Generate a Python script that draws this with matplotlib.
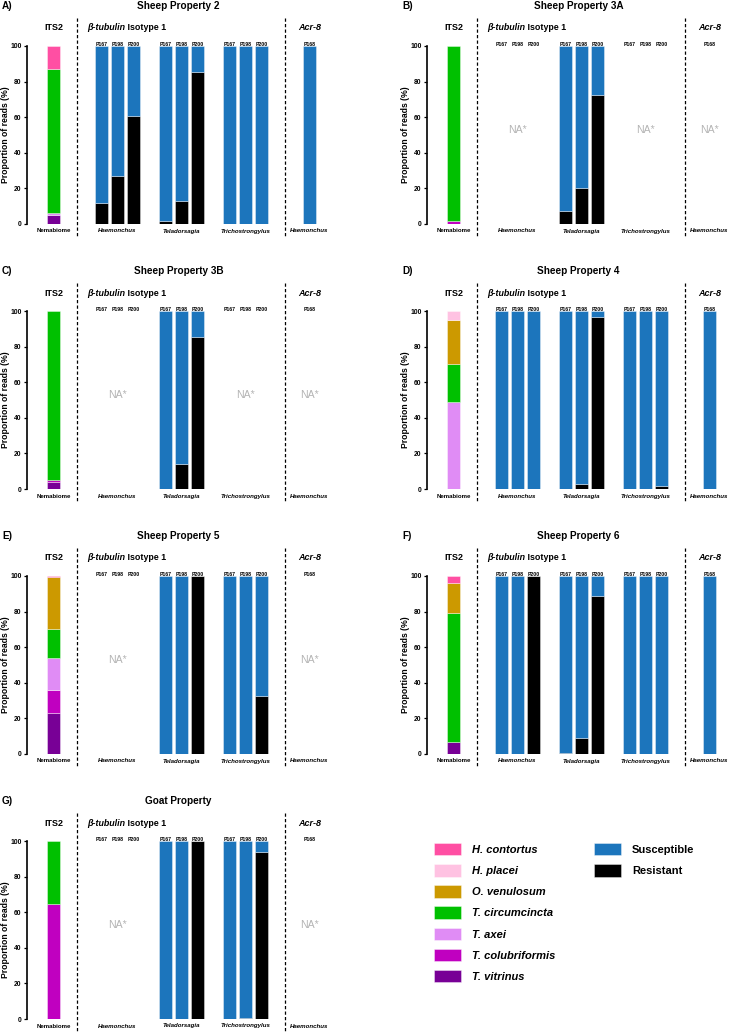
import matplotlib.pyplot as plt
import matplotlib.transforms as mtransforms
from matplotlib.patches import Patch

plt.rcParams['font.family'] = ['Liberation Sans', 'DejaVu Sans']
plt.rcParams['font.weight'] = 'bold'
plt.rcParams['axes.labelweight'] = 'bold'

# ── datos ────────────────────────────────────────────────────────────────
panel_letters = ['A)', 'B)', 'C)', 'D)', 'E)', 'F)', 'G)']
panel_titles = ['Sheep Property 2', 'Sheep Property 3A', 'Sheep Property 3B',
                'Sheep Property 4', 'Sheep Property 5', 'Sheep Property 6',
                'Goat Property']

species = ['H. contortus', 'H. placei', 'O. venulosum', 'T. circumcincta',
           'T. axei', 'T. colubriformis', 'T. vitrinus']
species_colors = ['#ff4fa3', '#ffc2e2', '#cc9900', '#00c000',
                  '#e08cf5', '#c000c0', '#780096']

# ITS2 nemabiome (% de lecturas), un valor por panel A..G
its2_h_contortus = [13.0, 0, 0, 0, 0.7, 4.1, 0]
its2_h_placei = [0, 0, 0, 5.2, 0, 0, 0]
its2_o_venulosum = [0, 0, 0, 24.8, 29.3, 16.7, 0]
its2_t_circumcincta = [81.0, 98.1, 94.8, 21.0, 16.0, 72.7, 35.6]
its2_t_axei = [1.0, 0, 0, 49.0, 18.1, 0, 0]
its2_t_colubriformis = [0, 1.9, 1.5, 0, 12.9, 0, 64.4]
its2_t_vitrinus = [5.0, 0, 3.7, 0, 23.0, 6.5, 0]
its2_values = [its2_h_contortus, its2_h_placei, its2_o_venulosum,
               its2_t_circumcincta, its2_t_axei, its2_t_colubriformis,
               its2_t_vitrinus]

# beta-tubulin isotipo 1: % resistente en P167, P198, P200 (None = NA*)
genera = ['Haemonchus', 'Teladorsagia', 'Trichostrongylus']
codons = ['P167', 'P198', 'P200']
haemonchus_resistant = [[11.7, 26.9, 60.9], None, None, [0, 0, 0], None,
                        [0, 0, 100], None]
teladorsagia_resistant = [[1.5, 12.8, 85.5], [7.4, 20.0, 72.5], [0, 13.9, 85.5],
                          [0, 2.8, 96.7], [0, 0, 100], [0.7, 8.9, 88.7],
                          [0, 0, 100]]
trichostrongylus_resistant = [[0, 0, 0], None, None, [0, 0, 1.7], [0, 0, 32.5],
                              [0, 0, 0], [0, 0.4, 94.0]]
genus_resistant = [haemonchus_resistant, teladorsagia_resistant,
                   trichostrongylus_resistant]

# Acr-8 (Haemonchus, P168)
acr8_codon = 'P168'
acr8_resistant = [0, None, None, 0, None, 0, None]

SUSC = '#1c75bc'
RES = '#000000'
EDGE = (1, 1, 1, 0.45)
NA_COLOR = '#b4b4b4'

# ── layout ───────────────────────────────────────────────────────────────
W, H = 732, 1034
fig = plt.figure(figsize=(W / 100, H / 100), dpi=100)

AX_W, AX_H = 303, 178
nema_x = 0
group_centers = [4, 8, 12]
acr_x = 16
dividers = [1.47, 14.47]
bw = 0.81


def fy(px):
    # pixeles relativos al panel -> fracción de ejes en y
    return 1 + (46 - px) / AX_H


for i in range(7):
    col, row = i % 2, i // 2
    x0 = 27 + 400 * col
    y0 = 46 + 265 * row
    ax = fig.add_axes([x0 / W, 1 - (y0 + AX_H) / H, AX_W / W, AX_H / H])
    trans = mtransforms.blended_transform_factory(ax.transData, ax.transAxes)

    # ITS2 apilado (de abajo hacia arriba: orden inverso a la leyenda)
    bottom = 0
    for vals, color in zip(its2_values[::-1], species_colors[::-1]):
        v = vals[i]
        if v > 0:
            ax.bar(nema_x, v, bw, bottom=bottom, color=color,
                   edgecolor=EDGE, linewidth=0.6)
            bottom += v

    # beta-tubulin
    for g, gx in enumerate(group_centers):
        res = genus_resistant[g][i]
        for j, cod in enumerate(codons):
            x = gx + j - 1
            ax.text(x, fy(44.5), cod, transform=trans, ha='center',
                    va='center', fontsize=3.7)
            if res is not None:
                ax.bar(x, res[j], bw, color=RES, edgecolor=EDGE, linewidth=0.6)
                ax.bar(x, 100 - res[j], bw, bottom=res[j], color=SUSC,
                       edgecolor=EDGE, linewidth=0.6)
        if res is None:
            ax.text(gx, 53, 'NA*', ha='center', va='center', fontsize=7.6,
                    color=NA_COLOR, fontweight='normal')

    # Acr-8
    ax.text(acr_x, fy(44.5), acr8_codon, transform=trans, ha='center',
            va='center', fontsize=3.7)
    if acr8_resistant[i] is None:
        ax.text(acr_x, 53, 'NA*', ha='center', va='center', fontsize=7.6,
                color=NA_COLOR, fontweight='normal')
    else:
        r = acr8_resistant[i]
        if r > 0:
            ax.bar(acr_x, r, bw, color=RES, edgecolor=EDGE, linewidth=0.6)
        ax.bar(acr_x, 100 - r, bw, bottom=r, color=SUSC, edgecolor=EDGE,
               linewidth=0.6)

    # etiquetas inferiores
    ax.text(nema_x, fy(231), 'Nemabiome', transform=trans, ha='center',
            va='center', fontsize=4.4)
    for gx, name in zip(group_centers, genera):
        ax.text(gx, fy(231), name, transform=trans, ha='center', va='center',
                fontsize=4.4, style='italic')
    ax.text(acr_x, fy(231), 'Haemonchus', transform=trans, ha='center',
            va='center', fontsize=4.4, style='italic')

    # cabeceras
    ax.text(nema_x, fy(28), 'ITS2', transform=trans, ha='center',
            va='center', fontsize=6.5)
    t1 = ax.text(2.09, fy(28), 'β-tubulin', transform=trans, ha='left',
                 va='center', fontsize=6.4, style='italic')
    ax.annotate(' Isotype 1', xy=(1, 0.5), xycoords=t1, ha='left',
                va='center', fontsize=6.4)
    ax.text(acr_x, fy(28), 'Acr-8', transform=trans, ha='center',
            va='center', fontsize=6.5, style='italic')

    # líneas divisorias
    for d in dividers:
        ax.plot([d, d], [fy(18), fy(238)], transform=trans, color='black',
                lw=0.9, ls=(0, (2.6, 1.8)), clip_on=False)

    # título y letra
    ax.text(0.5, fy(6), panel_titles[i], transform=ax.transAxes, ha='center',
            va='center', fontsize=7.2)
    ax.text(-25 / AX_W, fy(6), panel_letters[i], transform=ax.transAxes,
            ha='left', va='center', fontsize=7.2)

    ax.set_xlim(-26.5 / 16, -26.5 / 16 + AX_W / 16)
    ax.set_ylim(0, 100)
    ax.set_yticks([0, 20, 40, 60, 80, 100])
    ax.tick_params(axis='y', labelsize=4.9, length=2.5, width=0.9, pad=1.5)
    ax.set_xticks([])
    for s in ['top', 'right', 'bottom']:
        ax.spines[s].set_visible(False)
    ax.spines['left'].set_linewidth(1.2)
    ax.set_ylabel('Proportion of reads (%)', fontsize=6.2)
    ax.yaxis.set_label_coords(-17 / AX_W, 0.5)

# ── leyendas ─────────────────────────────────────────────────────────────
sp_handles = [Patch(facecolor=c, edgecolor=EDGE, linewidth=0.6)
              for c in species_colors]
leg_kw = dict(loc='upper left', frameon=False, borderpad=0, borderaxespad=0,
              handlelength=2.43, handleheight=1.35, handletextpad=1.0,
              labelspacing=0.78)
fig.legend(sp_handles, species, bbox_to_anchor=(434 / W, 1 - 843 / H),
           prop={'style': 'italic', 'weight': 'bold', 'size': 8}, **leg_kw)
sr_handles = [Patch(facecolor=SUSC, edgecolor=EDGE, linewidth=0.6),
              Patch(facecolor=RES, edgecolor=EDGE, linewidth=0.6)]
fig.legend(sr_handles, ['Susceptible', 'Resistant'],
           bbox_to_anchor=(594 / W, 1 - 843 / H),
           prop={'weight': 'bold', 'size': 8}, **leg_kw)

fig.savefig('out.png', dpi=100)
